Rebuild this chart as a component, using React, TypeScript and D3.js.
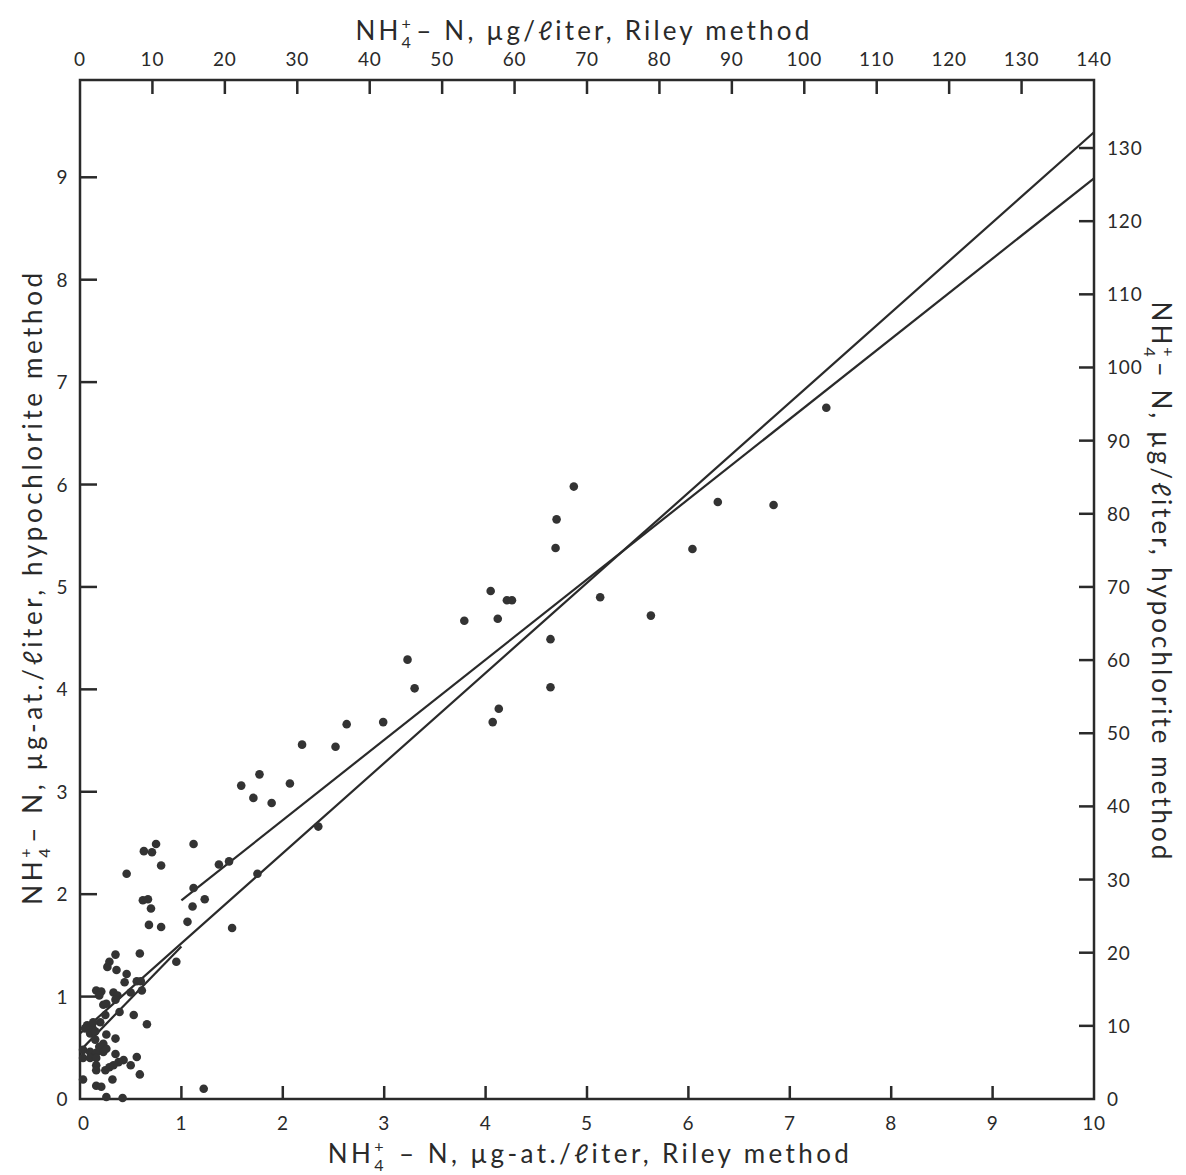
import React from "react";
import * as d3 from "d3";

// Riley method (x, µg-at./liter) vs hypochlorite method (y, µg-at./liter)
const rileyX = [
  7.36, 4.87, 4.70, 4.69, 6.29, 6.84, 6.04, 4.05, 4.21, 4.26, 3.79, 4.12, 5.13, 5.63, 4.64, 3.23, 3.30, 4.64, 4.13, 4.07, 2.99,
  2.63, 2.52, 2.19,
  1.77, 1.59, 2.07, 1.71, 1.89, 2.35, 0.75, 0.63, 0.71, 1.12, 1.37, 1.47, 0.80, 0.46, 1.75, 1.12, 1.23, 0.62, 0.67, 0.70, 1.11,
  0.68, 0.80, 1.06, 1.50,
  0.35, 0.59, 0.29, 0.27, 0.36, 0.95, 0.46, 0.44, 0.56, 0.60, 0.61, 0.16, 0.21, 0.19, 0.33, 0.37, 0.35, 0.50, 0.23, 0.26,
  0.39, 0.53, 0.66, 0.25, 0.20, 0.07, 0.12, 0.05, 0.13, 0.10, 0.15, 0.26, 0.35, 0.15, 0.23, 0.19,
  0.03, 0.10, 0.16, 0.23, 0.26, 0.03, 0.10, 0.16, 0.35, 0.56, 0.43, 0.38, 0.33, 0.29, 0.50, 0.16, 0.16, 0.25, 0.59, 0.03,
  0.32, 0.16, 0.21, 1.22, 0.26, 0.42,
];
const hypoY = [
  6.75, 5.98, 5.66, 5.38, 5.83, 5.80, 5.37, 4.96, 4.87, 4.87, 4.67, 4.69, 4.90, 4.72, 4.49, 4.29, 4.01, 4.02, 3.81, 3.68, 3.68,
  3.66, 3.44, 3.46,
  3.17, 3.06, 3.08, 2.94, 2.89, 2.66, 2.49, 2.42, 2.41, 2.49, 2.29, 2.32, 2.28, 2.20, 2.20, 2.06, 1.95, 1.94, 1.95, 1.86, 1.88,
  1.70, 1.68, 1.73, 1.67,
  1.41, 1.42, 1.34, 1.29, 1.26, 1.34, 1.22, 1.14, 1.15, 1.15, 1.06, 1.06, 1.05, 1.01, 1.04, 1.01, 0.97, 1.04, 0.92, 0.93,
  0.85, 0.82, 0.73, 0.82, 0.75, 0.72, 0.70, 0.69, 0.75, 0.64, 0.66, 0.63, 0.59, 0.58, 0.54, 0.51,
  0.48, 0.46, 0.45, 0.46, 0.49, 0.40, 0.40, 0.40, 0.44, 0.41, 0.38, 0.36, 0.33, 0.31, 0.33, 0.33, 0.28, 0.28, 0.24, 0.19,
  0.19, 0.13, 0.12, 0.10, 0.02, 0.01,
];

// Fitted lines (endpoints, µg-at./liter)
const steepLineX = [0, 10];
const steepLineY = [0.64, 9.44];
const shallowLineX = [1, 10];
const shallowLineY = [1.94, 8.99];
const lowLineX = [0, 1];
const lowLineY = [0.47, 1.49];

// Axes ticks
const bottomTicks = [0, 1, 2, 3, 4, 5, 6, 7, 8, 9, 10];
const leftTicks = [0, 1, 2, 3, 4, 5, 6, 7, 8, 9];
const topTicks = [0, 10, 20, 30, 40, 50, 60, 70, 80, 90, 100, 110, 120, 130, 140];
const rightTicks = [0, 10, 20, 30, 40, 50, 60, 70, 80, 90, 100, 110, 120, 130];

const W = 1186;
const H = 1175;
const FONT = "Lato, 'DejaVu Sans', sans-serif";
const INK = "#2a2a2a";

function NHTitle({ x, y, rot, fs, ls, rest }: { x: number; y: number; rot: number; fs: number; ls: number; rest: string }) {
  const small = fs * 0.62;
  const plusW = small * 0.58 + ls;
  return (
    <text
      transform={`translate(${x},${y}) rotate(${rot})`}
      textAnchor="middle"
      fontSize={fs}
      letterSpacing={ls}
      fill={INK}
      fontFamily={FONT}
    >
      <tspan>NH</tspan>
      <tspan fontSize={small} dy={-fs * 0.42}>+</tspan>
      <tspan fontSize={small} dx={-plusW} dy={fs * 0.72}>4</tspan>
      <tspan dy={-fs * 0.3} dx={fs * 0.08}>{rest}</tspan>
    </text>
  );
}

export default function App() {
  const x = d3.scaleLinear().domain([0, 10]).range([80, 1094]);
  const y = d3.scaleLinear().domain([0, 9.95]).range([1099, 80]);
  const xTop = d3.scaleLinear().domain([0, 140]).range([80, 1094]);
  const yRight = d3.scaleLinear().domain([0, 9.95 * 14]).range([1099, 80]);
  const line = d3.line<[number, number]>().x((d) => x(d[0])).y((d) => y(d[1]));
  const mk = (xs: number[], ys: number[]) => xs.map((v, i) => [v, ys[i]] as [number, number]);

  const [x0, x1] = x.range();
  const [y0, y1] = y.range();
  const TFS = 19;
  const TLS = 0.8;

  return (
    <svg width={W} height={H} style={{ position: "absolute", left: 0, top: 0, background: "#fff" }}>
      <rect x={0} y={0} width={W} height={H} fill="#fff" />
      {/* frame */}
      <rect x={x0} y={y1} width={x1 - x0} height={y0 - y1} fill="none" stroke={INK} strokeWidth={2.5} />

      {/* bottom ticks */}
      {bottomTicks.map((t) => (
        <g key={"b" + t}>
          {t > 0 && t < 10 && <line x1={x(t)} x2={x(t)} y1={y0} y2={y0 - 13} stroke={INK} strokeWidth={2.5} />}
          <text x={x(t) + (t === 0 ? 4 : 0)} y={1130} textAnchor="middle" fontSize={TFS} letterSpacing={TLS} fill={INK} fontFamily={FONT}>
            {t}
          </text>
        </g>
      ))}
      {/* left ticks */}
      {leftTicks.map((t) => (
        <g key={"l" + t}>
          {t > 0 && <line x1={x0} x2={x0 + 17} y1={y(t)} y2={y(t)} stroke={INK} strokeWidth={2.5} />}
          <text x={62} y={y(t) + 7} textAnchor="middle" fontSize={TFS} fill={INK} fontFamily={FONT}>
            {t}
          </text>
        </g>
      ))}
      {/* top ticks */}
      {topTicks.map((t) => (
        <g key={"t" + t}>
          {t > 0 && t < 140 && <line x1={xTop(t)} x2={xTop(t)} y1={y1} y2={y1 + 14} stroke={INK} strokeWidth={2.5} />}
          <text x={xTop(t)} y={66} textAnchor="middle" fontSize={TFS} letterSpacing={TLS} fill={INK} fontFamily={FONT}>
            {t}
          </text>
        </g>
      ))}
      {/* right ticks */}
      {rightTicks.map((t) => (
        <g key={"r" + t}>
          {t > 0 && <line x1={x1} x2={x1 - 15} y1={yRight(t)} y2={yRight(t)} stroke={INK} strokeWidth={2.5} />}
          <text x={1107} y={yRight(t) + 7} textAnchor="start" fontSize={TFS} letterSpacing={TLS} fill={INK} fontFamily={FONT}>
            {t}
          </text>
        </g>
      ))}

      {/* fitted lines */}
      <path d={line(mk(steepLineX, steepLineY)) || ""} fill="none" stroke={INK} strokeWidth={2.2} />
      <path d={line(mk(shallowLineX, shallowLineY)) || ""} fill="none" stroke={INK} strokeWidth={2.2} />
      <path d={line(mk(lowLineX, lowLineY)) || ""} fill="none" stroke={INK} strokeWidth={2.2} />

      {/* points */}
      {rileyX.map((v, i) => (
        <circle key={"p" + i} cx={x(v)} cy={y(hypoY[i])} r={4.3} fill="#333" />
      ))}

      {/* titles */}
      <NHTitle x={584} y={40} rot={0} fs={26} ls={3.2} rest="– N,  µg/ℓiter, Riley method" />
      <NHTitle x={590} y={1163} rot={0} fs={26} ls={3.4} rest=" – N,  µg-at./ℓiter,  Riley  method" />
      <NHTitle x={42} y={587} rot={-90} fs={26} ls={3.6} rest="– N,  µg-at./ℓiter, hypochlorite method" />
      <NHTitle x={1152} y={582} rot={90} fs={26} ls={3.0} rest="– N,  µg/ℓiter, hypochlorite method" />
    </svg>
  );
}
